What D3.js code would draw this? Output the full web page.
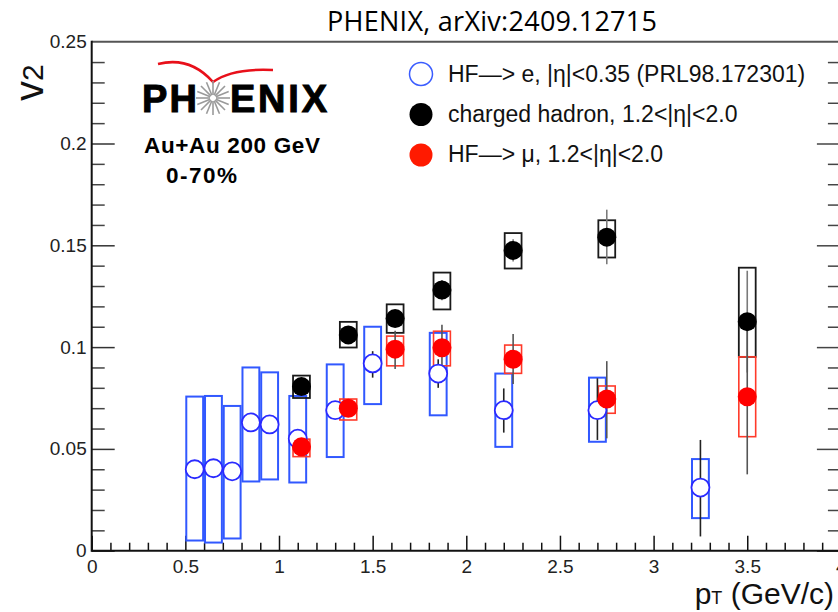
<!DOCTYPE html>
<html>
<head>
<meta charset="utf-8">
<script src="https://cdn.jsdelivr.net/npm/d3@7"></script>
<style>
  body { margin: 0; background: #fff; }
  text { font-family: "Liberation Sans", Helvetica, Arial, sans-serif; }
</style>
</head>
<body>
<svg id="chart" width="838" height="612"></svg>
<script>
// HF -> e (open blue circles)
const ePt    = [0.55, 0.65, 0.75, 0.85, 0.95, 1.1, 1.3, 1.5, 1.85, 2.2, 2.7, 3.25];
const eV2    = [0.040, 0.0405, 0.039, 0.063, 0.062, 0.055, 0.069, 0.092, 0.087, 0.069, 0.069, 0.031];
const eSysLo = [0.005, 0.004, 0.006, 0.034, 0.035, 0.0335, 0.046, 0.072, 0.0665, 0.051, 0.0535, 0.016];
const eSysHi = [0.0757, 0.076, 0.0711, 0.090, 0.0876, 0.076, 0.0915, 0.110, 0.107, 0.087, 0.085, 0.045];
const eStLo  = [0.038, 0.0385, 0.037, 0.061, 0.060, 0.052, 0.066, 0.085, 0.080, 0.058, 0.0544, 0.007];
const eStHi  = [0.042, 0.0425, 0.041, 0.065, 0.064, 0.058, 0.072, 0.098, 0.094, 0.0797, 0.0847, 0.0544];

// charged hadron (filled black)
const hPt    = [1.12, 1.37, 1.62, 1.87, 2.25, 2.75, 3.5];
const hV2    = [0.0806, 0.106, 0.114, 0.128, 0.1475, 0.154, 0.1125];
const hSysLo = [0.075, 0.0998, 0.107, 0.1185, 0.1386, 0.144, 0.0952];
const hSysHi = [0.086, 0.1124, 0.121, 0.1366, 0.156, 0.1623, 0.139];
const hStLo  = [0.078, 0.103, 0.110, 0.123, 0.142, 0.1407, 0.0875];
const hStHi  = [0.083, 0.109, 0.118, 0.133, 0.153, 0.1675, 0.1375];

// HF -> mu (filled red)
const mPt    = [1.12, 1.37, 1.62, 1.87, 2.25, 2.75, 3.5];
const mV2    = [0.051, 0.070, 0.099, 0.0997, 0.094, 0.0745, 0.0756];
const mSysLo = [0.0462, 0.0642, 0.0908, 0.0908, 0.0871, 0.0675, 0.056];
const mSysHi = [0.0548, 0.0745, 0.1054, 0.1078, 0.101, 0.0809, 0.0952];
const mStLo  = [0.049, 0.067, 0.0892, 0.087, 0.0819, 0.0552, 0.0375];
const mStHi  = [0.053, 0.073, 0.108, 0.111, 0.1064, 0.0931, 0.114];

const legendLabels = ["HF\u2014> e, |\u03b7|<0.35 (PRL98.172301)",
                      "charged hadron, 1.2<|\u03b7|<2.0",
                      "HF\u2014> \u03bc, 1.2<|\u03b7|<2.0"];

const xMajor = [0, 0.5, 1, 1.5, 2, 2.5, 3, 3.5, 4];
const yMajor = [0, 0.05, 0.1, 0.15, 0.2, 0.25];

const svg = d3.select("#chart");

const x = d3.scaleLinear().domain([0, 4]).range([91.7, 840.9]);
const y = d3.scaleLinear().domain([0, 0.25]).range([550.7, 41.7]);
const boxHalf = 0.045;

const xMinor = d3.range(0, 4.001, 0.1).filter(v => Math.abs(v * 2 - Math.round(v * 2)) > 1e-6);
const yMinor = d3.range(0, 0.2501, 0.01).filter(v => Math.abs(v * 20 - Math.round(v * 20)) > 1e-6);

// axes, ticks pointing inward
const gx = svg.append("g").attr("transform", `translate(0,${y(0)})`)
  .call(d3.axisBottom(x).tickValues(xMajor).tickSize(-15).tickFormat(d => d));
gx.select(".domain").remove();
gx.selectAll(".tick line").attr("stroke", "#111").attr("stroke-width", 1.5);
gx.selectAll(".tick text").attr("y", 22).attr("dy", 0)
  .style("font-size", "19px").attr("fill", "#222");

svg.append("g").attr("transform", `translate(0,${y(0)})`)
  .call(d3.axisBottom(x).tickValues(xMinor).tickSize(-8).tickFormat(""))
  .call(g => g.select(".domain").remove())
  .selectAll(".tick line").attr("stroke", "#111").attr("stroke-width", 1.5);

const gy = svg.append("g").attr("transform", `translate(${x(0)},0)`)
  .call(d3.axisLeft(y).tickValues(yMajor).tickSize(-23).tickPadding(5).tickFormat(d => d));
gy.select(".domain").remove();
gy.selectAll(".tick line").attr("stroke", "#333").attr("stroke-width", 1.5);
gy.selectAll(".tick text").style("font-size", "19px").attr("fill", "#222");
gy.selectAll(".tick").filter(d => d === 0.25).select("line").remove();

svg.append("g").attr("transform", `translate(${x(0)},0)`)
  .call(d3.axisLeft(y).tickValues(yMinor).tickSize(-13).tickFormat(""))
  .call(g => g.select(".domain").remove())
  .selectAll(".tick line").attr("stroke", "#444").attr("stroke-width", 1.5);

// right side ticks
svg.append("g").attr("transform", `translate(${x(4)},0)`)
  .call(d3.axisRight(y).tickValues(yMajor.slice(0, 5)).tickSize(-24).tickFormat(""))
  .call(g => g.select(".domain").remove())
  .selectAll(".tick line").attr("stroke", "#444").attr("stroke-width", 1.5);
svg.append("g").attr("transform", `translate(${x(4)},0)`)
  .call(d3.axisRight(y).tickValues(yMinor).tickSize(-13).tickFormat(""))
  .call(g => g.select(".domain").remove())
  .selectAll(".tick line").attr("stroke", "#444").attr("stroke-width", 1.5);

// frame
svg.append("line").attr("x1", x(0)).attr("x2", 838).attr("y1", y(0.25)).attr("y2", y(0.25))
  .attr("stroke", "#555").attr("stroke-width", 2);
svg.append("line").attr("x1", x(0)).attr("x2", x(0)).attr("y1", y(0.25) - 1).attr("y2", y(0) + 1)
  .attr("stroke", "#111").attr("stroke-width", 2);
svg.append("line").attr("x1", x(0)).attr("x2", 838).attr("y1", y(0)).attr("y2", y(0))
  .attr("stroke", "#111").attr("stroke-width", 2);

// titles
svg.append("text").attr("x", 327).attr("y", 31).attr("textLength", 330)
  .style("font-family", "'Open Sans', sans-serif").style("font-size", "27px")
  .text("PHENIX, arXiv:2409.12715");

const xt = svg.append("text").attr("x", 834).attr("y", 604).attr("text-anchor", "end")
  .style("font-size", "30px").attr("fill", "#111");
xt.append("tspan").text("p");
xt.append("tspan").style("font-size", "18px").text("T");
xt.append("tspan").text(" (GeV/c)");

const yt = svg.append("text").attr("transform", "translate(43,101) rotate(-90)").attr("fill", "#111");
yt.append("tspan").style("font-size", "40px").text("v");
yt.append("tspan").style("font-size", "30px").text("2");

// PHENIX logo
const logo = svg.append("g");
logo.append("path").attr("d", "M158,64 Q190,56 213,82 Q232,68 273,70")
  .attr("fill", "none").attr("stroke", "#e8101a").attr("stroke-width", 2.5);
logo.append("text").attr("x", 142).attr("y", 112).attr("textLength", 55)
  .style("font-size", "38px").style("font-weight", "bold")
  .attr("stroke", "#000").attr("stroke-width", 1).text("PH");
logo.append("text").attr("x", 230).attr("y", 112).attr("textLength", 97)
  .style("font-size", "38px").style("font-weight", "bold")
  .attr("stroke", "#000").attr("stroke-width", 1).text("ENIX");
logo.append("g").selectAll("line").data(d3.range(16)).join("line")
  .attr("x1", d => 213 + 3 * Math.cos(d * Math.PI / 8))
  .attr("y1", d => 98 + 3 * Math.sin(d * Math.PI / 8))
  .attr("x2", d => 213 + 17 * Math.cos(d * Math.PI / 8))
  .attr("y2", d => 98 + 17 * Math.sin(d * Math.PI / 8))
  .attr("stroke", "#9a9a9a").attr("stroke-width", 1.6);
logo.append("text").attr("x", 144).attr("y", 153).attr("textLength", 176)
  .style("font-size", "22.5px").style("font-weight", "bold").text("Au+Au 200 GeV");
logo.append("text").attr("x", 166).attr("y", 183).attr("textLength", 71)
  .style("font-size", "22.5px").style("font-weight", "bold").text("0-70%");

// series helpers
function series(pt, v2, sLo, sHi, stLo, stHi) {
  return pt.map((p, i) => ({ p, v: v2[i], sLo: sLo[i], sHi: sHi[i], stLo: stLo[i], stHi: stHi[i] }));
}
const eData = series(ePt, eV2, eSysLo, eSysHi, eStLo, eStHi);
const hData = series(hPt, hV2, hSysLo, hSysHi, hStLo, hStHi);
const mData = series(mPt, mV2, mSysLo, mSysHi, mStLo, mStHi);

function boxes(data, color, w) {
  svg.append("g").selectAll("rect").data(data).join("rect")
    .attr("x", d => x(d.p - boxHalf)).attr("width", d => x(d.p + boxHalf) - x(d.p - boxHalf))
    .attr("y", d => y(d.sHi)).attr("height", d => y(d.sLo) - y(d.sHi))
    .attr("fill", "none").attr("stroke", color).attr("stroke-width", w);
}
function stats(data, color) {
  svg.append("g").selectAll("line").data(data).join("line")
    .attr("x1", d => x(d.p)).attr("x2", d => x(d.p))
    .attr("y1", d => y(d.stHi)).attr("y2", d => y(d.stLo))
    .attr("stroke", color).attr("stroke-width", 1.6);
}

boxes(eData, "#3158ff", 2);
boxes(hData, "#1a1a1a", 1.8);
boxes(mData, "#ff3a2a", 1.6);
stats(eData, "#222");
stats(hData, "#7a7a7a");
stats(mData, "#555");

svg.append("g").selectAll("circle").data(eData).join("circle")
  .attr("cx", d => x(d.p)).attr("cy", d => y(d.v)).attr("r", 9)
  .attr("fill", "#fff").attr("stroke", "#2a2aff").attr("stroke-width", 1.8);
svg.append("g").selectAll("circle").data(hData).join("circle")
  .attr("cx", d => x(d.p)).attr("cy", d => y(d.v)).attr("r", 9.5).attr("fill", "#000");
svg.append("g").selectAll("circle").data(mData).join("circle")
  .attr("cx", d => x(d.p)).attr("cy", d => y(d.v)).attr("r", 9.5).attr("fill", "#ff0000");

// legend
const legStyles = [
  { fill: "#fff", stroke: "#3a5cff" },
  { fill: "#000", stroke: "none" },
  { fill: "#ff1a00", stroke: "none" }
];
const leg = svg.append("g");
leg.selectAll("circle").data(legendLabels).join("circle")
  .attr("cx", 421).attr("cy", (d, i) => 74 + i * 40.5).attr("r", 11.5)
  .attr("fill", (d, i) => legStyles[i].fill).attr("stroke", (d, i) => legStyles[i].stroke)
  .attr("stroke-width", 1.5);
leg.selectAll("text").data(legendLabels).join("text")
  .attr("x", 448).attr("y", (d, i) => 82 + i * 40)
  .style("font-size", "23px").attr("fill", "#111")
  .text(d => d);
</script>
</body>
</html>
